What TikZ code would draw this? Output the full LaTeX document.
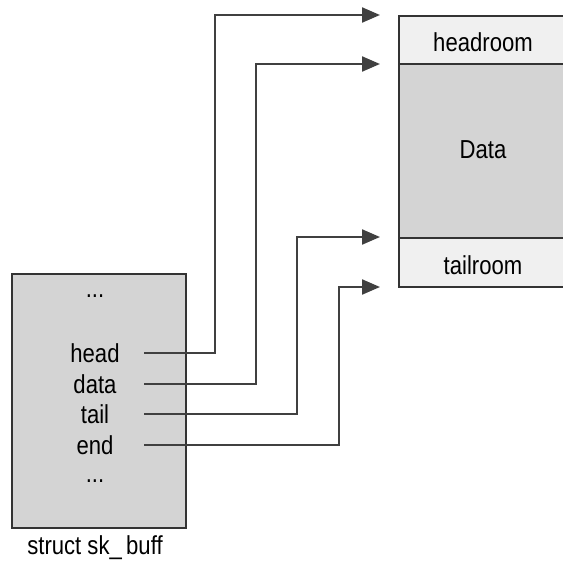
\documentclass[tikz,border=0pt]{standalone}
\usepackage{fontspec}
\setmainfont[FakeStretch=0.85]{Liberation Sans}
\usetikzlibrary{arrows.meta}
\begin{document}
\begin{tikzpicture}[x=1pt,y=-1pt,
  lbl/.style={font=\fontsize{26}{28}\selectfont, inner sep=0pt, text=black},
  wire/.style={draw=black!75, line width=2.2pt, -{Triangle[length=18pt,width=15pt]}},
  boxline/.style={draw=black!80, line width=2pt}]
\useasboundingbox (0,0) rectangle (563,562);
% struct box
\node[boxline, fill=black!17, minimum width=174pt, minimum height=254pt, inner sep=0pt, anchor=north west] (skb) at (11,273) {};
\node[lbl] (dots1) at (95,296) {...};
\node[lbl] (head) at (95,353) {head};
\node[lbl] (data) at (95,384) {data};
\node[lbl] (tail) at (95,414) {tail};
\node[lbl] (end) at (95,445) {end};
\node[lbl] (dots2) at (95,481) {...};
\node[lbl] (cap) at (95,548) {struct sk\_\,buff};
% buffer
\node[boxline, fill=black!6, minimum width=170pt, minimum height=48pt, inner sep=0pt, anchor=north west] (headroom) at (398,15) {};
\node[boxline, fill=black!17, minimum width=170pt, minimum height=174pt, inner sep=0pt, anchor=north west] (databox) at (398,63) {};
\node[boxline, fill=black!6, minimum width=170pt, minimum height=49pt, inner sep=0pt, anchor=north west] (tailroom) at (398,237) {};
\node[lbl] (hrt) at (483,42) {headroom};
\node[lbl] (dt) at (483,150) {Data};
\node[lbl] (trt) at (483,265) {tailroom};
% connectors
\coordinate (s1) at (144,353);
\coordinate (s2) at (144,384);
\coordinate (s3) at (144,414);
\coordinate (s4) at (144,445);
\coordinate (t1) at (380,15);
\coordinate (t2) at (380,64);
\coordinate (t3) at (380,237);
\coordinate (t4) at (380,287);
\draw[wire] (s1) -| (215,15) -- (t1);
\draw[wire] (s2) -| (256,64) -- (t2);
\draw[wire] (s3) -| (297,237) -- (t3);
\draw[wire] (s4) -| (339,287) -- (t4);
\end{tikzpicture}
\end{document}
